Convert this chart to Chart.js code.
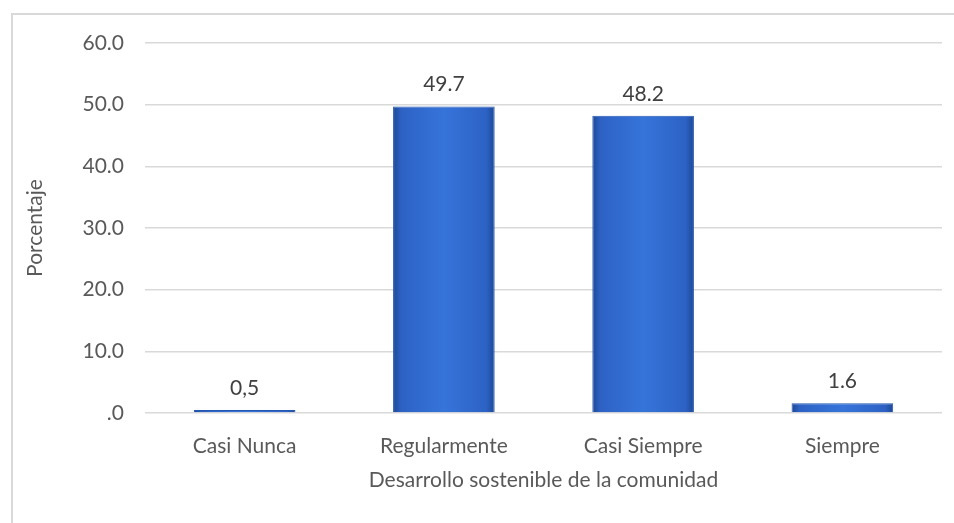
<!DOCTYPE html>
<html>
<head>
<meta charset="utf-8">
<script src="https://cdn.jsdelivr.net/npm/chart.js@4/dist/chart.umd.min.js"></script>
<style>
  html, body { margin: 0; padding: 0; background: #fff; overflow: hidden; }
  #wrap { position: relative; width: 954px; height: 523px; }
  #frame { position: absolute; left: 11px; top: 13px; width: 960px; height: 540px; border: 2px solid #d9d9d9; box-sizing: border-box; }
  canvas { position: absolute; left: 0; top: 0; }
</style>
</head>
<body>
<div id="wrap">
  <div id="frame"></div>
  <canvas id="chart" width="954" height="523"></canvas>
</div>
<script>
// datos del gráfico
const categorias = ['Casi Nunca', 'Regularmente', 'Casi Siempre', 'Siempre'];
const porcentajes = [0.5, 49.7, 48.2, 1.6];
const etiquetasValor = ['0,5', '49.7', '48.2', '1.6'];
const ticksY = ['.0', '10.0', '20.0', '30.0', '40.0', '50.0', '60.0'];

const fuente = "Lato, 'Open Sans', sans-serif";

// degradado horizontal para cada barra
function colorBarra(ctx) {
  const chart = ctx.chart;
  const x = chart.scales.x;
  if (!chart.chartArea || !x || ctx.dataIndex === undefined) return '#3370d6';
  const centro = x.getPixelForValue(ctx.dataIndex);
  const ancho = (x.width / categorias.length) * 0.51;
  const g = chart.ctx.createLinearGradient(centro - ancho / 2, 0, centro + ancho / 2, 0);
  g.addColorStop(0, '#1b4796');
  g.addColorStop(0.08, '#2d62c4');
  g.addColorStop(0.5, '#3674da');
  g.addColorStop(0.92, '#2d62c4');
  g.addColorStop(1, '#1b4796');
  return g;
}

// etiquetas de valor encima de las barras
const etiquetasPlugin = {
  id: 'etiquetas',
  afterDatasetsDraw(chart) {
    const ctx = chart.ctx;
    const meta = chart.getDatasetMeta(0);
    ctx.save();
    ctx.font = '21px ' + fuente;
    ctx.fillStyle = '#404040';
    ctx.textAlign = 'center';
    ctx.textBaseline = 'middle';
    meta.data.forEach((bar, i) => {
      ctx.fillText(etiquetasValor[i], bar.x, bar.y - 22);
    });
    ctx.restore();
  }
};

new Chart(document.getElementById('chart'), {
  type: 'bar',
  data: {
    labels: categorias,
    datasets: [{
      data: porcentajes,
      backgroundColor: colorBarra,
      borderColor: '#2457b0',
      borderWidth: 1,
      barPercentage: 0.51,
      categoryPercentage: 1
    }]
  },
  options: {
    responsive: false,
    animation: false,
    layout: { padding: { left: 23, top: 43, right: 12, bottom: 30 } },
    plugins: {
      legend: { display: false },
      tooltip: { enabled: false }
    },
    scales: {
      x: {
        grid: { display: false },
        border: { display: false },
        ticks: { color: '#595959', font: { family: fuente, size: 21 }, padding: 13 },
        title: {
          display: true,
          text: 'Desarrollo sostenible de la comunidad',
          color: '#595959',
          font: { family: fuente, size: 21 },
          padding: { top: 0, bottom: 0 }
        },
        afterFit: s => { s.height = 80; }
      },
      y: {
        min: 0,
        max: 60,
        ticks: {
          stepSize: 10,
          color: '#595959',
          font: { family: fuente, size: 21 },
          padding: 21,
          callback: (v, i) => ticksY[i]
        },
        grid: { color: '#d9d9d9', lineWidth: 1.5, drawTicks: false },
        border: { display: false },
        title: {
          display: true,
          text: 'Porcentaje',
          color: '#595959',
          font: { family: fuente, size: 21 },
          padding: { top: 0, bottom: 0 }
        },
        afterFit: s => { s.width = 122; }
      }
    }
  },
  plugins: [etiquetasPlugin]
});
</script>
</body>
</html>
